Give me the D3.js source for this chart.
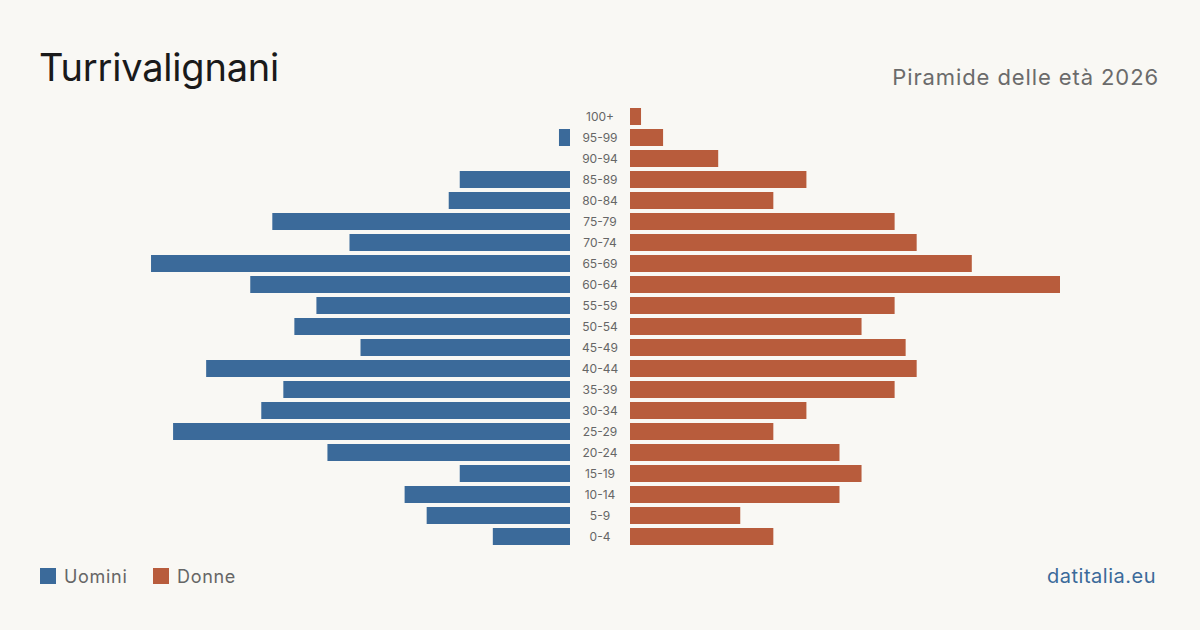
<!DOCTYPE html>
<html>
<head>
<meta charset="utf-8">
<script src="https://cdn.jsdelivr.net/npm/d3@7"></script>
<style>
  body { margin: 0; background: #f9f8f4; }
  svg { display: block; font-family: Inter, "Noto Sans", sans-serif; }
</style>
</head>
<body>
<svg width="1200" height="630"></svg>
<script>
// eta, dal piu vecchio al piu giovane
var ageGroups = ['100+','95-99','90-94','85-89','80-84','75-79','70-74','65-69','60-64','55-59','50-54',
                 '45-49','40-44','35-39','30-34','25-29','20-24','15-19','10-14','5-9','0-4'];
var men   = [0, 1, 0, 10, 11, 27, 20, 38, 29, 23, 25, 19, 33, 26, 28, 36, 22, 10, 15, 13, 7];
var women = [1, 3, 8, 16, 13, 24, 26, 31, 39, 24, 21, 25, 26, 24, 16, 13, 19, 21, 19, 10, 13];

var svg = d3.select('svg');
svg.append('rect').attr('width', 1200).attr('height', 630).attr('fill', '#f9f8f4');

var maxVal = d3.max(men.concat(women));
var ScaleW = d3.scaleLinear().domain([0, maxVal]).range([0, 430]);
var ScaleY = d3.scaleBand().domain(ageGroups).range([106, 547]).paddingInner(4/21).paddingOuter(2/21);

var leftEdge = 570, rightEdge = 630, mid = 600;

svg.selectAll('.men')
    .data(men)
    .enter()
    .append('rect')
    .attr('class', 'men')
    .attr('x', function(d){ return leftEdge - ScaleW(d); })
    .attr('y', function(d, i){ return ScaleY(ageGroups[i]); })
    .attr('width', function(d){ return ScaleW(d); })
    .attr('height', ScaleY.bandwidth())
    .attr('fill', '#3b6a9a');

svg.selectAll('.women')
    .data(women)
    .enter()
    .append('rect')
    .attr('class', 'women')
    .attr('x', rightEdge)
    .attr('y', function(d, i){ return ScaleY(ageGroups[i]); })
    .attr('width', function(d){ return ScaleW(d); })
    .attr('height', ScaleY.bandwidth())
    .attr('fill', '#b85c3c');

svg.selectAll('.age')
    .data(ageGroups)
    .enter()
    .append('text')
    .attr('class', 'age')
    .attr('x', mid)
    .attr('y', function(d){ return ScaleY(d) + ScaleY.bandwidth() / 2 + 4; })
    .attr('text-anchor', 'middle')
    .attr('font-size', 12)
    .attr('fill', '#666')
    .text(function(d){ return d; });

// titoli
svg.append('text')
    .attr('x', 39).attr('y', 81)
    .attr('font-size', 38)
    .attr('letter-spacing', -0.2)
    .attr('fill', '#1a1a1a')
    .text('Turrivalignani');

svg.append('text')
    .attr('x', 1159).attr('y', 85)
    .attr('text-anchor', 'end')
    .attr('font-size', 22)
    .attr('letter-spacing', 0.9)
    .attr('fill', '#6b6b6b')
    .text('Piramide delle età 2026');

// legenda
var legend = [['Uomini', '#3b6a9a', 40], ['Donne', '#b85c3c', 153]];
legend.forEach(function(l){
    svg.append('rect').attr('x', l[2]).attr('y', 568).attr('width', 16).attr('height', 16).attr('fill', l[1]);
    svg.append('text').attr('x', l[2] + 24).attr('y', 583)
        .attr('font-size', 18).attr('letter-spacing', 0.7).attr('fill', '#666').text(l[0]);
});

svg.append('text')
    .attr('x', 1156).attr('y', 583)
    .attr('text-anchor', 'end')
    .attr('font-size', 20)
    .attr('letter-spacing', 0.5)
    .attr('fill', '#3b6a9a')
    .text('datitalia.eu');
</script>
</body>
</html>
